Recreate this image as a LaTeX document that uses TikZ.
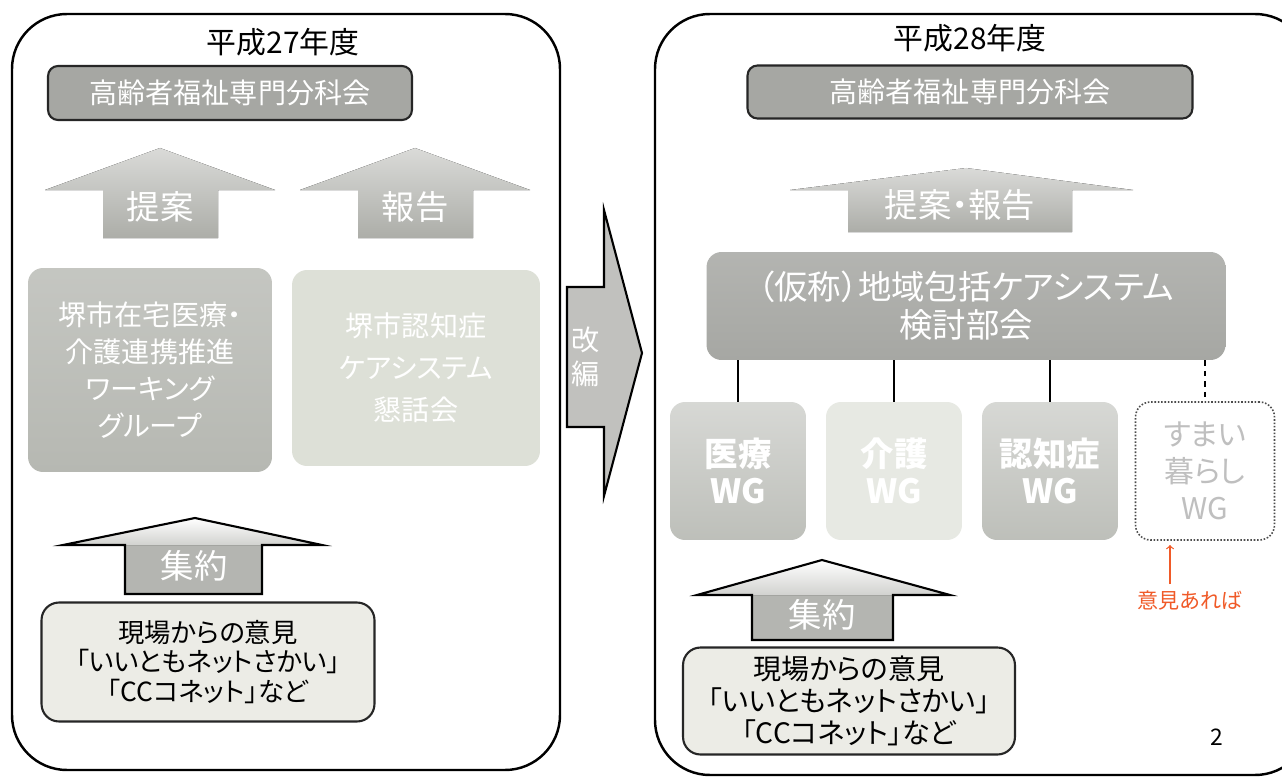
\documentclass[tikz,border=0pt]{standalone}
\usepackage{fontspec}
\setmainfont[RawFeature=+palt]{Noto Sans CJK JP}
\usepackage{tikz}

\definecolor{headgray}{HTML}{A6A7A3}
\definecolor{arrowgray}{HTML}{ACADA8}
\definecolor{wgdark}{HTML}{B6B8B2}
\definecolor{wglight}{HTML}{DDE0D7}
\definecolor{boxpale}{HTML}{ECECE6}
\definecolor{pen}{HTML}{F05A28}

\begin{document}
\begin{tikzpicture}[x=0.02cm,y=-0.02cm,
  panel/.style={draw=black,line width=1.4pt,rounded corners=1.1cm,fill=white},
  headbox/.style={draw=black!85,line width=1.2pt,rounded corners=0.2cm,fill=headgray,
    text=white,font=\fontsize{16}{18}\selectfont},
  groupbox/.style={rounded corners=0.3cm,text=white,align=center},
  wgbox/.style={groupbox,minimum width=2.72cm,minimum height=2.76cm,
    font=\fontsize{19}{21}\selectfont\bfseries},
  opinion/.style={draw=black!85,line width=1.2pt,rounded corners=0.35cm,fill=boxpale,
    align=center,font=\fontsize{15}{16.8}\selectfont},
  blockarrow/.style={top color=arrowgray!45,bottom color=arrowgray},
  outline/.style={draw=black,line width=1.2pt},
  headfill/.style={top color=white,bottom color=arrowgray!55},
  arrowtext/.style={text=white,font=\fontsize{19}{21}\selectfont},
  year/.style={font=\fontsize{17}{20}\selectfont},
  memoarrow/.style={draw=pen,line width=0.7pt,->}]
  \useasboundingbox (0,0) rectangle (1282,777);

  % panels
  \draw[panel] (12,14) rectangle (560,770);
  \begin{scope}
    \clip (0,0) rectangle (1282,777);
    \draw[panel] (655,14) rectangle (1310,775);
  \end{scope}

  % H27
  \node[year] (title27) at (283,42) {平成27年度};
  \node[headbox,minimum width=7.28cm,minimum height=1.08cm] (kourei27) at (230,93) {高齢者福祉専門分科会};

  \fill[blockarrow] (103,238) -- (103,190) -- (45,190) -- (160,148) -- (275,190) -- (218,190) -- (218,238) -- cycle;
  \fill[blockarrow] (358,238) -- (358,190) -- (300,190) -- (415,148) -- (530,190) -- (473,190) -- (473,238) -- cycle;
  \node[arrowtext] (teian) at (160,207) {提案};
  \node[arrowtext] (houkoku) at (415,207) {報告};

  \node[groupbox,top color=wgdark!80,bottom color=wgdark,minimum width=4.88cm,minimum height=4.08cm,
    font=\fontsize{16}{21}\selectfont] (zaitaku) at (150,370)
    {堺市在宅医療・\\介護連携推進\\ワーキング\\グループ};
  \node[groupbox,fill=wglight,minimum width=4.96cm,minimum height=3.92cm,
    font=\fontsize{16}{24}\selectfont] (kondan) at (416,368)
    {堺市認知症\\ケアシステム\\懇話会};

  % shuyaku 27
  \fill[arrowgray!90] (125,594) rectangle (262,545);
  \fill[headfill] (63,545) -- (195,518) -- (322,545) -- cycle;
  \draw[outline] (125,594) -- (125,545) -- (63,545) -- (195,518) -- (322,545) -- (262,545) -- (262,594) -- cycle;
  \node[arrowtext] (shuyaku27) at (194,566) {集約};
  \node[opinion,minimum width=6.66cm,minimum height=2.38cm] (genba27) at (208,662)
    {現場からの意見\\「いいともネットさかい」\\「CCコネット」など};

  % kaihen
  \draw[outline,fill=arrowgray!75] (567,287) -- (604,287) -- (604,210) -- (642,353) -- (604,496) -- (604,427) -- (567,427) -- cycle;
  \node[arrowtext,align=center,font=\fontsize{16}{19}\selectfont] (kaihen) at (586,357) {改\\編};

  % H28
  \node[year] (title28) at (970,38) {平成28年度};
  \node[headbox,minimum width=8.9cm,minimum height=1.06cm] (kourei28) at (970,92) {高齢者福祉専門分科会};

  \fill[blockarrow] (848,232) -- (848,190) -- (790,190) -- (966,168) -- (1133,190) -- (1072,190) -- (1072,232) -- cycle;
  \node[arrowtext] (teianhoukoku) at (960,205) {提案・報告};

  \node[groupbox,top color=headgray!85,bottom color=headgray,minimum width=10.38cm,minimum height=2.16cm,
    font=\fontsize{19}{21.6}\selectfont] (kentou) at (966,306)
    {（仮称）地域包括ケアシステム\\検討部会};

  \node[wgbox,top color=wgdark!55,bottom color=wgdark!90] (wgiryo) at (738,471) {医療\\WG};
  \node[wgbox,fill=wglight!70] (wgkaigo) at (894,471) {介護\\WG};
  \node[wgbox,top color=wgdark!55,bottom color=wgdark!90] (wgninchi) at (1050,471) {認知症\\WG};
  \node[groupbox,draw=black!70,densely dotted,line width=0.9pt,fill=white,text=black!25,
    minimum width=2.78cm,minimum height=2.76cm,font=\fontsize{17}{21}\selectfont] (wgsumai) at (1205,471)
    {すまい\\暮らし\\WG};

  \draw[line width=1.2pt] (kentou.south -| wgiryo.north) -- (wgiryo.north);
  \draw[line width=1.2pt] (kentou.south -| wgkaigo.north) -- (wgkaigo.north);
  \draw[line width=1.2pt] (kentou.south -| wgninchi.north) -- (wgninchi.north);
  \draw[line width=1.2pt,dashed] (kentou.south -| wgsumai.north) -- (wgsumai.north);

  \node[text=pen,font=\fontsize{12}{14}\selectfont] (memo) at (1190,600) {意見あれば};
  \coordinate (tip) at (1170,545);
  \draw[memoarrow] (memo.north -| tip) -- (tip);

  % shuyaku 28
  \fill[arrowgray!90] (752,640) rectangle (893,595);
  \fill[headfill] (697,595) -- (822,560) -- (950,595) -- cycle;
  \draw[outline] (752,640) -- (752,595) -- (697,595) -- (822,560) -- (950,595) -- (893,595) -- (893,640) -- cycle;
  \node[arrowtext] (shuyaku28) at (822,615) {集約};
  \node[opinion,minimum width=6.64cm,minimum height=2.14cm,font=\fontsize{16}{18}\selectfont] (genba28) at (849,701)
    {現場からの意見\\「いいともネットさかい」\\「CCコネット」など};

  \node[font=\fontsize{13}{15}\selectfont] (page) at (1217,737) {2};
\end{tikzpicture}
\end{document}
